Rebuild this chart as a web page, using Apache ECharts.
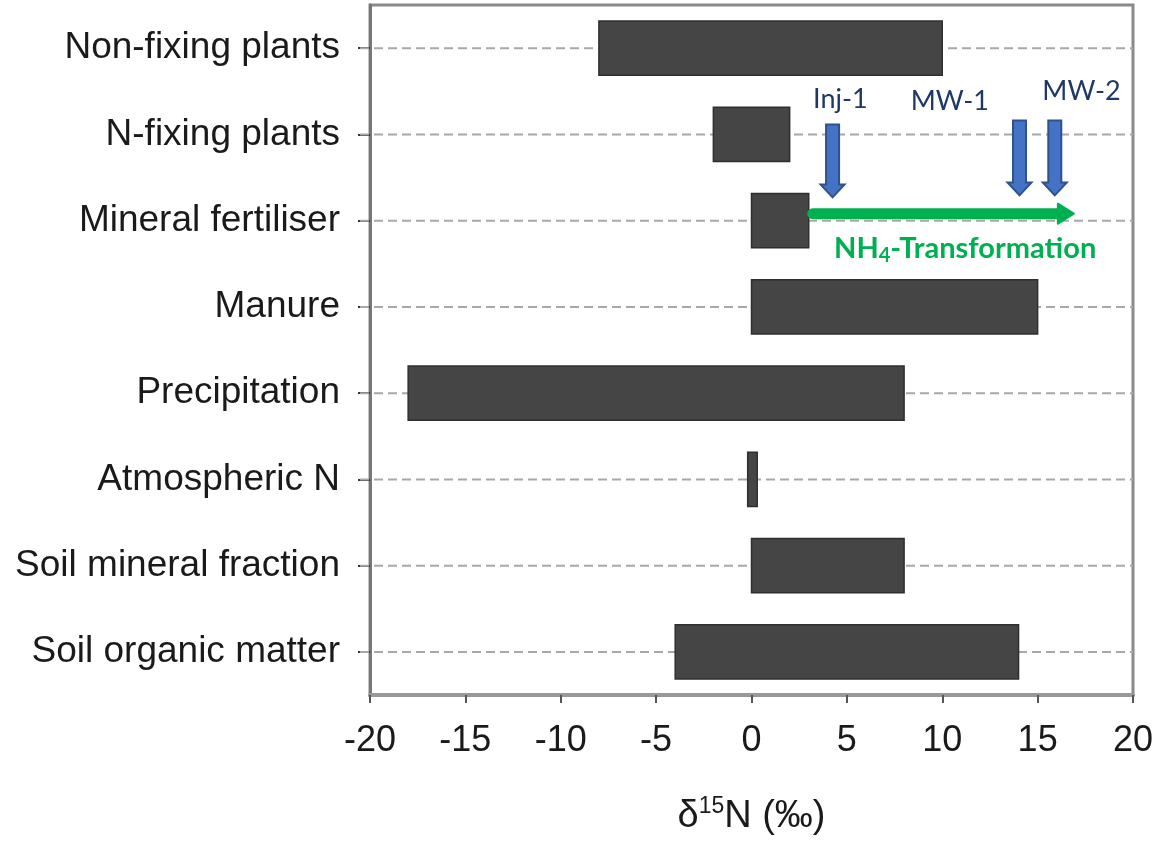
<!DOCTYPE html>
<html><head><meta charset="utf-8">
<script src="https://cdn.jsdelivr.net/npm/echarts@6/dist/echarts.min.js"></script>
<style>html,body{margin:0;padding:0;background:#fff}#c{width:1157px;height:842px}</style>
</head><body><div id="c"></div>
<script>
const categories = ['Non-fixing plants','N-fixing plants','Mineral fertiliser','Manure','Precipitation','Atmospheric N','Soil mineral fraction','Soil organic matter'];
const rangeLow  = [-8, -2, 0, 0, -18, -0.2, 0, -4];
const rangeHigh = [10, 2, 3, 15, 8, 0.3, 8, 14];
const xTicks = [-20, -15, -10, -5, 0, 5, 10, 15, 20];
const wellNames = ['Inj-1', 'MW-1', 'MW-2'];
const wellX = [4.25, 14.05, 15.9];
const wellLabelX = [4.66, 10.4, 17.3];
const transformStart = 3;
const transformEnd = 16.9;
const transformLabelX = 11.2;

const FONT = "'Liberation Sans', Arial, sans-serif";
const CAL = "Lato, 'Open Sans', sans-serif";

const barData = categories.map((c, i) => [i, rangeLow[i], rangeHigh[i]]);
const wellData = wellNames.map((n, i) => [i, wellX[i], wellLabelX[i]]);

const chart = echarts.init(document.getElementById('c'), null, {renderer: 'canvas'});
chart.setOption({
  animation: false,
  backgroundColor: '#fff',
  grid: {left: 370, right: 24, top: 5, bottom: 147, show: true, borderColor: '#8a8a8a', borderWidth: 3, backgroundColor: 'transparent'},
  xAxis: {
    type: 'value', min: xTicks[0], max: xTicks[xTicks.length - 1], interval: 5,
    axisLine: {show: true, onZero: false, lineStyle: {color: '#999', width: 4}},
    axisTick: {show: true, inside: false, length: 8, lineStyle: {color: '#555', width: 2}},
    splitLine: {show: false},
    axisLabel: {margin: 28, fontSize: 36, color: '#1a1a1a', fontFamily: FONT},
    name: '{a|δ}{s|15}{a|N (‰)}',
    nameLocation: 'middle', nameGap: 100,
    nameTextStyle: {rich: {
      a: {fontSize: 38, color: '#1a1a1a', fontFamily: FONT, lineHeight: 44},
      s: {fontSize: 23, color: '#1a1a1a', fontFamily: FONT, verticalAlign: 'top', lineHeight: 44}
    }}
  },
  yAxis: {
    type: 'category', data: categories, inverse: true,
    axisLine: {show: true, onZero: false, lineStyle: {color: '#777', width: 3}},
    axisTick: {show: true, alignWithLabel: true, length: 12, lineStyle: {color: '#333', width: 2}},
    splitLine: {show: false},
    axisLabel: {margin: 30, fontSize: 37, color: '#1a1a1a', fontFamily: FONT}
  },
  series: [
    {
      type: 'custom', name: 'range', data: barData,
      encode: {x: [1, 2], y: 0},
      renderItem(params, api) {
        const ci = api.value(0);
        const lo = api.coord([api.value(1), ci]);
        const hi = api.coord([api.value(2), ci]);
        const bandH = api.size([0, 1])[1];
        const h = bandH * 0.63;
        const cs = params.coordSys;
        return {type: 'group', children: [
          {type: 'line', shape: {x1: cs.x - 10, y1: lo[1], x2: cs.x + cs.width, y2: lo[1]},
           style: {stroke: '#a8a8a8', lineWidth: 2, lineDash: [9, 5]}},
          {type: 'rect', shape: {x: lo[0], y: lo[1] - h / 2, width: hi[0] - lo[0], height: h},
           style: {fill: '#454545', stroke: '#2f2f2f', lineWidth: 1.5}}
        ]};
      }
    },
    {
      type: 'custom', name: 'wells', data: wellData,
      encode: {x: 1},
      renderItem(params, api) {
        const p = api.coord([api.value(1), 1]);
        const lp = api.coord([api.value(2), 1]);
        const i = api.value(0);
        const cx = p[0], ty = p[1] - 14 + (i === 0 ? 4 : 0), by = p[1] + 61 + (i === 0 ? 2 : 0);
        const sw = 6.5, hw = 12, hh = 13;
        return {type: 'group', children: [
          {type: 'polygon', shape: {points: [[cx - sw, ty], [cx + sw, ty], [cx + sw, by - hh], [cx + hw, by - hh], [cx, by], [cx - hw, by - hh], [cx - sw, by - hh]]},
           style: {fill: '#4472C4', stroke: '#2F528F', lineWidth: 2}},
          {type: 'text', x: lp[0], y: lp[1] - 35 - (i === 2 ? 8 : 0) + (i === 1 ? 2 : 0),
           style: {text: wellNames[i], fill: '#1F3864', fontSize: 27, fontFamily: CAL, align: 'center', verticalAlign: 'middle'}}
        ]};
      }
    },
    {
      type: 'custom', name: 'transformation', data: [[transformStart, transformEnd, transformLabelX]],
      encode: {x: [0, 1]},
      renderItem(params, api) {
        const a = api.coord([api.value(0), 2]);
        const b = api.coord([api.value(1), 2]);
        const t = api.coord([api.value(2), 2]);
        const y = a[1] - 7;
        const x1 = a[0] + 4, x2 = b[0];
        return {type: 'group', children: [
          {type: 'line', shape: {x1: x1, y1: y, x2: x2 - 12, y2: y},
           style: {stroke: '#00B050', lineWidth: 11, lineCap: 'round'}},
          {type: 'polygon', shape: {points: [[x2 - 16, y - 10], [x2, y], [x2 - 16, y + 10]]},
           style: {fill: '#00B050', stroke: '#00B050', lineWidth: 2, lineJoin: 'round'}},
          {type: 'text', x: t[0], y: t[1] + 28,
           style: {text: '{b|NH}{s|4}{b|-Transformation}', align: 'center', verticalAlign: 'middle',
             rich: {
               b: {fontSize: 29, fontWeight: 'bold', fill: '#00B050', color: '#00B050', fontFamily: CAL, lineHeight: 34},
               s: {fontSize: 20, fontWeight: 'bold', fill: '#00B050', color: '#00B050', fontFamily: CAL, lineHeight: 34, verticalAlign: 'bottom'}
             }}}
        ]};
      }
    }
  ]
});
</script></body></html>
